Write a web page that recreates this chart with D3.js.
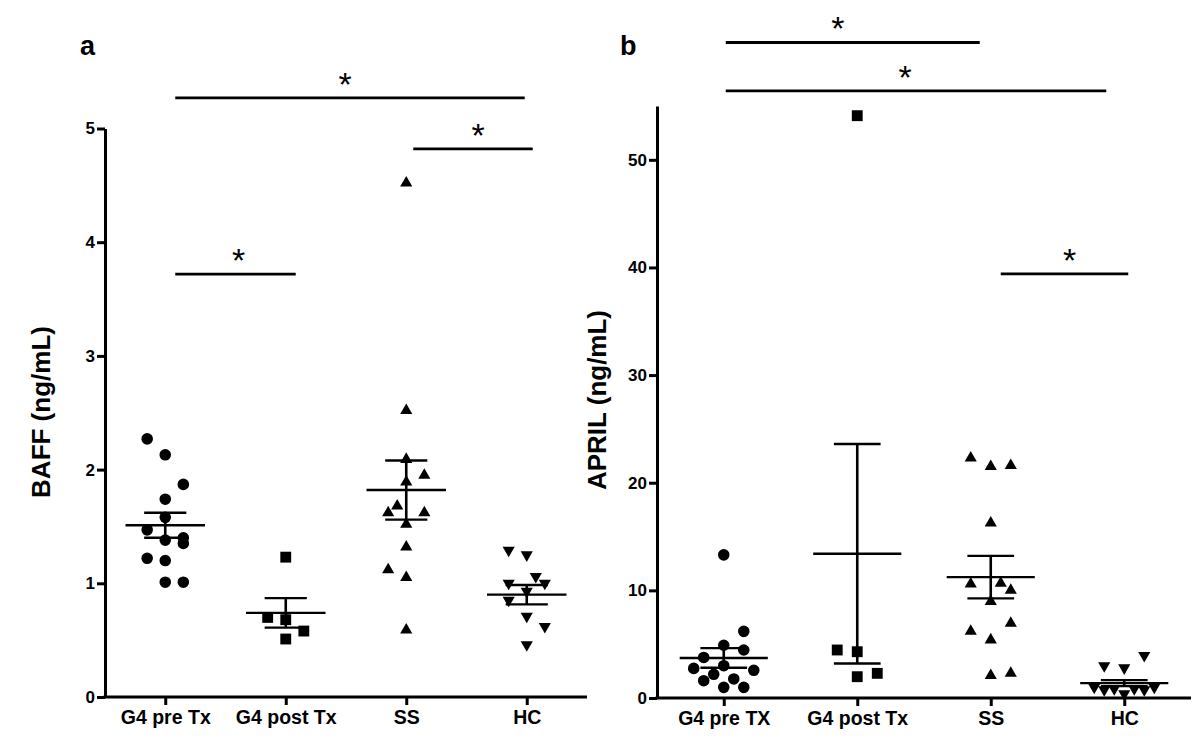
<!DOCTYPE html>
<html>
<head>
<meta charset="utf-8">
<script src="https://cdn.jsdelivr.net/npm/d3@7"></script>
<style>
  html, body { margin: 0; padding: 0; background: #fff; }
  svg { display: block; }
  text { font-family: "Liberation Sans", Arial, sans-serif; fill: #000; }
</style>
</head>
<body>
<svg id="chart" width="1200" height="741"></svg>
<script>
// ---------------- DATA ----------------
const categoriesA = ["G4 pre Tx", "G4 post Tx", "SS", "HC"];
const categoriesB = ["G4 pre TX", "G4 post Tx", "SS", "HC"];
const yTicksA = [0, 1, 2, 3, 4, 5];
const yTicksB = [0, 10, 20, 30, 40, 50];

// Panel a: BAFF (ng/mL)
const baffG4pre  = [2.27, 2.13, 1.87, 1.74, 1.58, 1.47, 1.38, 1.40, 1.35, 1.22, 1.20, 1.01, 1.01];
const baffG4post = [1.23, 0.70, 0.68, 0.58, 0.51];
const baffSS     = [4.52, 2.52, 2.09, 1.95, 1.89, 1.68, 1.62, 1.62, 1.52, 1.32, 1.12, 1.05, 0.59];
const baffHC     = [1.29, 1.25, 1.06, 1.00, 1.00, 0.93, 0.85, 0.71, 0.62, 0.46];
const baffMean   = [1.51, 0.74, 1.82, 0.90];
const baffSEM    = [0.11, 0.13, 0.26, 0.085];

// Panel b: APRIL (ng/mL)
const aprilG4pre  = [13.3, 6.19, 4.9, 4.46, 3.77, 3.0, 2.75, 2.57, 2.2, 1.61, 1.77, 0.99, 0.99];
const aprilG4post = [54.1, 4.46, 4.3, 1.98, 2.29];
const aprilSS     = [22.3, 21.5, 21.6, 16.25, 10.6, 10.67, 10.0, 8.97, 6.95, 6.2, 5.4, 2.09, 2.3];
const aprilHC     = [3.0, 2.8, 3.95, 1.0, 0.76, 0.85, 0.39, 0.85, 0.76, 1.0];
const aprilMean   = [3.72, 13.4, 11.23, 1.38];
const aprilSEM    = [0.91, 10.2, 1.97, 0.28];

// Scatter column slot of each point (dot-plot spreading), in the order of the values
const baffSlots = [
  [-2, 0, 2, 0, 0, -2, 0, 2, 2, -2, 0, 0, 2],
  [0, -2, 0, 2, 0],
  [0, 0, 0, 2, 0, -1, -2, 2, 0, 0, -2, 0, 0],
  [-2, 0, 1, 2, -2, 0, -2, 0, 2, 0]
];
const aprilSlots = [
  [0, 2, 0, 2, -2, 0, -3, 3, -1, -2, 1, 0, 2],
  [0, -2, 0, 0, 2],
  [-2, 0, 2, 0, -2, 1, 2, 0, 2, -2, 0, 0, 2],
  [-2, 0, 2, -3, -2, -1, 0, 1, 2, 3]
];

// Significance comparisons: [group i, group j, level in data units]
const baffSig  = [[0, 3, 5.27], [2, 3, 4.82], [0, 1, 3.72]];
const aprilSig = [[0, 2, 60.9], [0, 3, 56.4], [2, 3, 39.4]];

const shapes = [d3.symbolCircle, d3.symbolSquare, d3.symbolTriangle, d3.symbolTriangle];

// ---------------- LAYOUT ----------------
const svg = d3.select("#chart");
const FONT = "Liberation Sans, Arial, sans-serif";

function panel(cfg) {
  const g = svg.append("g");
  const x = d3.scalePoint().domain(cfg.categories).range(cfg.xRange).padding(0.5);
  const y = d3.scaleLinear().domain(cfg.yDomain).range(cfg.yRange);
  const step = x.step();
  const slotW = step * 0.075;

  // axes
  const yAxis = d3.axisLeft(y).tickValues(cfg.yTicks).tickFormat(d3.format("d"))
    .tickSize(8).tickSizeOuter(0).tickPadding(2);
  const gy = g.append("g").attr("transform", `translate(${cfg.xRange[0]},0)`).call(yAxis);
  gy.select(".domain").attr("stroke-width", 3).attr("stroke", "#000");
  gy.selectAll(".tick line").attr("stroke-width", 3).attr("stroke", "#000");
  gy.selectAll(".tick text").attr("font-size", 17).attr("font-weight", "bold")
    .attr("font-family", FONT).attr("fill", "#000");

  const xAxis = d3.axisBottom(x).tickSize(8).tickSizeOuter(0).tickPadding(5);
  const gx = g.append("g").attr("transform", `translate(0,${cfg.yRange[0]})`).call(xAxis);
  gx.select(".domain").attr("stroke-width", 3).attr("stroke", "#000")
    .attr("d", `M${cfg.xRange[0] - 1.5},0H${cfg.xRange[1]}`);
  gx.selectAll(".tick line").attr("stroke-width", 3).attr("stroke", "#000");
  gx.selectAll(".tick text").attr("font-size", 19.5).attr("font-weight", "bold")
    .attr("font-family", FONT).attr("fill", "#000");

  // y axis title
  g.append("text")
    .attr("transform", `translate(${cfg.titleX},${cfg.titleY}) rotate(-90)`)
    .attr("text-anchor", "middle")
    .attr("font-size", 26).attr("font-weight", "bold")
    .text(cfg.yTitle);

  // panel letter
  g.append("text").attr("x", cfg.letterX).attr("y", 55)
    .attr("font-size", 27).attr("font-weight", "bold").text(cfg.letter);

  // points
  cfg.groups.forEach((vals, gi) => {
    const sym = d3.symbol().type(shapes[gi]).size(gi === 0 ? 105 : gi === 1 ? 118 : 64);
    g.append("g").selectAll("path").data(vals).join("path")
      .attr("d", sym)
      .attr("fill", "#000")
      .attr("transform", (d, i) => {
        const px = x(cfg.categories[gi]) + cfg.slots[gi][i] * slotW;
        const py = y(d);
        return `translate(${px},${py})` + (gi === 3 ? " rotate(180)" : "");
      });
  });

  // mean and SEM
  cfg.means.forEach((m, gi) => {
    const cx = x(cfg.categories[gi]);
    const mw = step * 0.33, cw = step * 0.175;
    const hi = y(m + cfg.sems[gi]), lo = y(m - cfg.sems[gi]);
    g.append("line").attr("x1", cx - mw).attr("x2", cx + mw).attr("y1", y(m)).attr("y2", y(m))
      .attr("stroke", "#000").attr("stroke-width", 2.4);
    g.append("line").attr("x1", cx).attr("x2", cx).attr("y1", hi).attr("y2", lo)
      .attr("stroke", "#000").attr("stroke-width", 2.6);
    [hi, lo].forEach(yy => g.append("line").attr("x1", cx - cw).attr("x2", cx + cw)
      .attr("y1", yy).attr("y2", yy).attr("stroke", "#000").attr("stroke-width", 2.4));
  });

  // significance bars
  cfg.sig.forEach((s, k) => {
    const off = cfg.sigOffsets[k];
    const x1 = x(cfg.categories[s[0]]) + off[0];
    const x2 = x(cfg.categories[s[1]]) + off[1];
    const yy = y(s[2]);
    g.append("line").attr("x1", x1).attr("x2", x2).attr("y1", yy).attr("y2", yy)
      .attr("stroke", "#000").attr("stroke-width", 2.8);
    g.append("text").attr("x", (x1 + x2) / 2 + off[2]).attr("y", yy - 2)
      .attr("text-anchor", "middle").attr("font-size", 34).attr("font-weight", "normal")
      .text("*");
  });
}

panel({
  letter: "a", letterX: 80,
  categories: categoriesA,
  xRange: [105, 587], yRange: [697, 128.5], yDomain: [0, 5], yTicks: yTicksA,
  yTitle: "BAFF (ng/mL)", titleX: 50, titleY: 412,
  groups: [baffG4pre, baffG4post, baffSS, baffHC], slots: baffSlots,
  means: baffMean, sems: baffSEM,
  sig: baffSig, sigOffsets: [[10, -2, -5], [7, 6, 5], [10, 10, 3]]
});

panel({
  letter: "b", letterX: 620,
  categories: categoriesB,
  xRange: [657, 1191], yRange: [698, 106], yDomain: [0, 55], yTicks: yTicksB,
  yTitle: "APRIL (ng/mL)", titleX: 606, titleY: 400,
  groups: [aprilG4pre, aprilG4post, aprilSS, aprilHC], slots: aprilSlots,
  means: aprilMean, sems: aprilSEM,
  sig: aprilSig, sigOffsets: [[2, -11, -15], [2, -18, -11], [10, 4, 5]]
});
</script>
</body>
</html>
